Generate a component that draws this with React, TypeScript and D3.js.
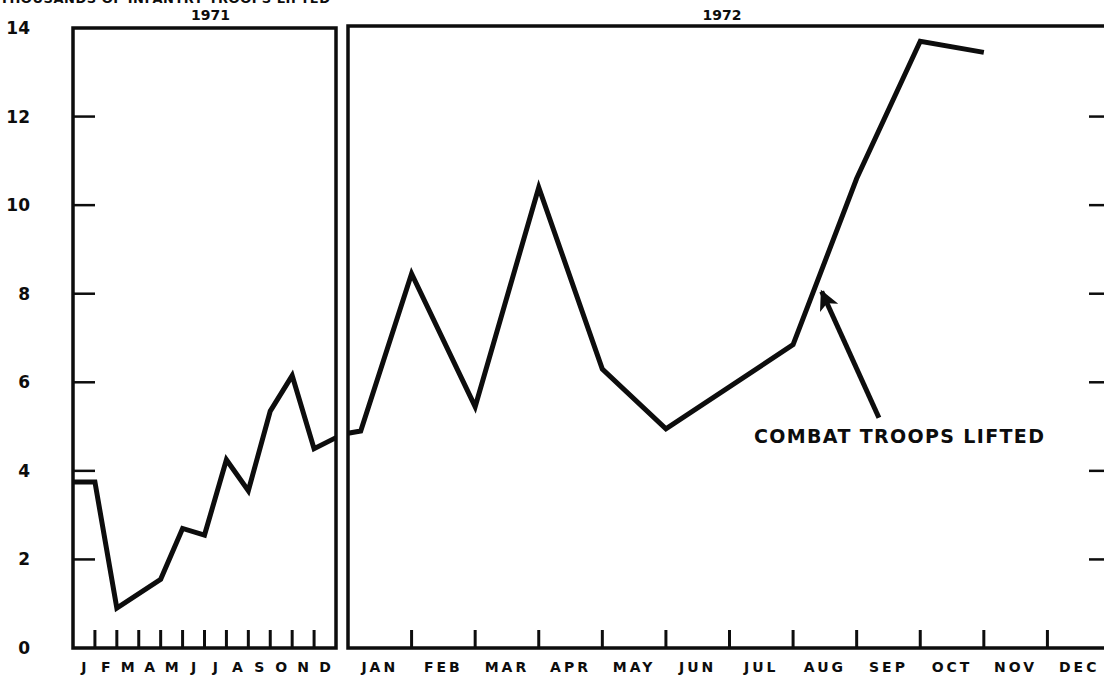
import React, { useRef, useEffect } from "react";
import * as d3 from "d3";

// values (thousands of troops lifted)
const titleText = "THOUSANDS OF INFANTRY TROOPS LIFTED";
const years = ["1971", "1972"];
const monthsShort = ["J", "F", "M", "A", "M", "J", "J", "A", "S", "O", "N", "D"];
const monthsLong = ["JAN", "FEB", "MAR", "APR", "MAY", "JUN", "JUL", "AUG", "SEP", "OCT", "NOV", "DEC"];
const yTicks = [0, 2, 4, 6, 8, 10, 12, 14];

// month position (0 = start of year, 12 = end of year)
const pos1971 = [0, 1, 2, 4, 5, 6, 7, 8, 9, 10, 11, 12];
const troops1971 = [3.75, 3.75, 0.9, 1.55, 2.7, 2.55, 4.25, 3.55, 5.35, 6.15, 4.5, 4.75];
const pos1972 = [0, 0.2, 1, 2, 3, 4, 5, 7, 8, 9, 10];
const troops1972 = [4.85, 4.9, 8.45, 5.45, 10.4, 6.3, 4.95, 6.85, 10.6, 13.7, 13.45];

// annotation arrow: [month position, value] in 1972 panel
const noteText = "COMBAT TROOPS LIFTED";
const arrowFrom = [8.35, 5.2];
const arrowTo = [7.45, 8.05];

const FONT = "'DejaVu Sans', Verdana, sans-serif";
const INK = "#0d0d0d";

const App = () => {
    const svgRef = useRef(null);

    useEffect(() => {
        const root = d3.select(svgRef.current);
        root.selectAll("*").remove();

        const width = 1104;
        const height = 676;
        root.attr("width", width).attr("height", height);

        const y = d3.scaleLinear().domain([0, 14]).range([648, 28]);
        const xL = d3.scaleLinear().domain([0, 12]).range([73, 336]);
        const xR = d3.scaleLinear().domain([0, 12]).range([348, 1111]);

        const defs = root.append("defs");
        defs.append("marker")
            .attr("id", "head")
            .attr("viewBox", "0 0 10 10")
            .attr("refX", 9)
            .attr("refY", 5)
            .attr("markerWidth", 32)
            .attr("markerHeight", 20)
            .attr("markerUnits", "userSpaceOnUse")
            .attr("orient", "auto")
            .append("path")
            .attr("d", "M0,0 L10,5 L0,10 L2.5,5 Z")
            .attr("fill", INK);

        // cut-off title at the very top
        root.append("text")
            .attr("x", 0)
            .attr("y", 3)
            .attr("textLength", 330)
            .attr("font-family", FONT)
            .attr("font-weight", "bold")
            .attr("font-size", 13)
            .attr("fill", INK)
            .text(titleText);

        // y labels
        root.append("g")
            .selectAll("text")
            .data(yTicks)
            .join("text")
            .attr("x", 30)
            .attr("y", (d) => y(d))
            .attr("dy", "0.35em")
            .attr("text-anchor", "end")
            .attr("font-family", FONT)
            .attr("font-weight", "bold")
            .attr("font-size", 17)
            .attr("fill", INK)
            .text((d) => d);

        const panels = [
            { x: xL, year: years[0], labels: monthsShort, pos: pos1971, vals: troops1971, tickSide: "left", top: 28 },
            { x: xR, year: years[1], labels: monthsLong, pos: pos1972, vals: troops1972, tickSide: "right", top: 26 },
        ];

        panels.forEach((p) => {
            const g = root.append("g");
            const [x0, x1] = p.x.range();

            // frame
            g.append("rect")
                .attr("x", x0)
                .attr("y", p.top)
                .attr("width", x1 - x0)
                .attr("height", y(0) - p.top)
                .attr("fill", "none")
                .attr("stroke", INK)
                .attr("stroke-width", 3.5);

            // month ticks
            g.selectAll(".mt")
                .data(d3.range(1, 12))
                .join("line")
                .attr("x1", (d) => p.x(d))
                .attr("x2", (d) => p.x(d))
                .attr("y1", y(0))
                .attr("y2", y(0) - 18)
                .attr("stroke", INK)
                .attr("stroke-width", 3);

            // value ticks
            const tx = p.tickSide === "left" ? x0 : x1 - 22;
            g.selectAll(".vt")
                .data(yTicks.filter((v) => v > 0 && v < 14))
                .join("line")
                .attr("x1", tx)
                .attr("x2", tx + 22)
                .attr("y1", (d) => y(d))
                .attr("y2", (d) => y(d))
                .attr("stroke", INK)
                .attr("stroke-width", 2.5);

            // month labels
            const step = p.x(1) - p.x(0);
            g.selectAll(".ml")
                .data(p.labels)
                .join("text")
                .attr("x", (d, i) => p.x(i) + step / 2)
                .attr("y", 672)
                .attr("text-anchor", "middle")
                .attr("font-family", FONT)
                .attr("font-weight", "bold")
                .attr("font-size", 14)
                .attr("letter-spacing", p.labels === monthsLong ? 3 : 0)
                .attr("fill", INK)
                .text((d) => d);

            // year label
            g.append("text")
                .attr("x", (x0 + Math.min(x1, width)) / 2 + (p.tickSide === "left" ? 6 : -4))
                .attr("y", 20)
                .attr("text-anchor", "middle")
                .attr("font-family", FONT)
                .attr("font-weight", "bold")
                .attr("font-size", 14)
                .attr("fill", INK)
                .text(p.year);

            // data line
            const line = d3
                .line()
                .x((d) => p.x(d[0]))
                .y((d) => y(d[1]));
            g.append("path")
                .datum(p.pos.map((m, i) => [m, p.vals[i]]))
                .attr("fill", "none")
                .attr("stroke", INK)
                .attr("stroke-width", 5)
                .attr("stroke-linejoin", "miter")
                .attr("d", line);
        });

        // annotation
        root.append("line")
            .attr("x1", xR(arrowFrom[0]))
            .attr("y1", y(arrowFrom[1]))
            .attr("x2", xR(arrowTo[0]))
            .attr("y2", y(arrowTo[1]))
            .attr("stroke", INK)
            .attr("stroke-width", 5)
            .attr("marker-end", "url(#head)");

        root.append("text")
            .attr("x", xR(arrowFrom[0]) + 20)
            .attr("y", y(arrowFrom[1]) + 25)
            .attr("text-anchor", "middle")
            .attr("textLength", 290)
            .attr("font-family", FONT)
            .attr("font-weight", "bold")
            .attr("font-size", 19)
            .attr("fill", INK)
            .text(noteText);
    }, []);

    return (
        <svg ref={svgRef} style={{ position: "absolute", left: 0, top: 0, background: "#fff" }}></svg>
    );
};

export default App;
